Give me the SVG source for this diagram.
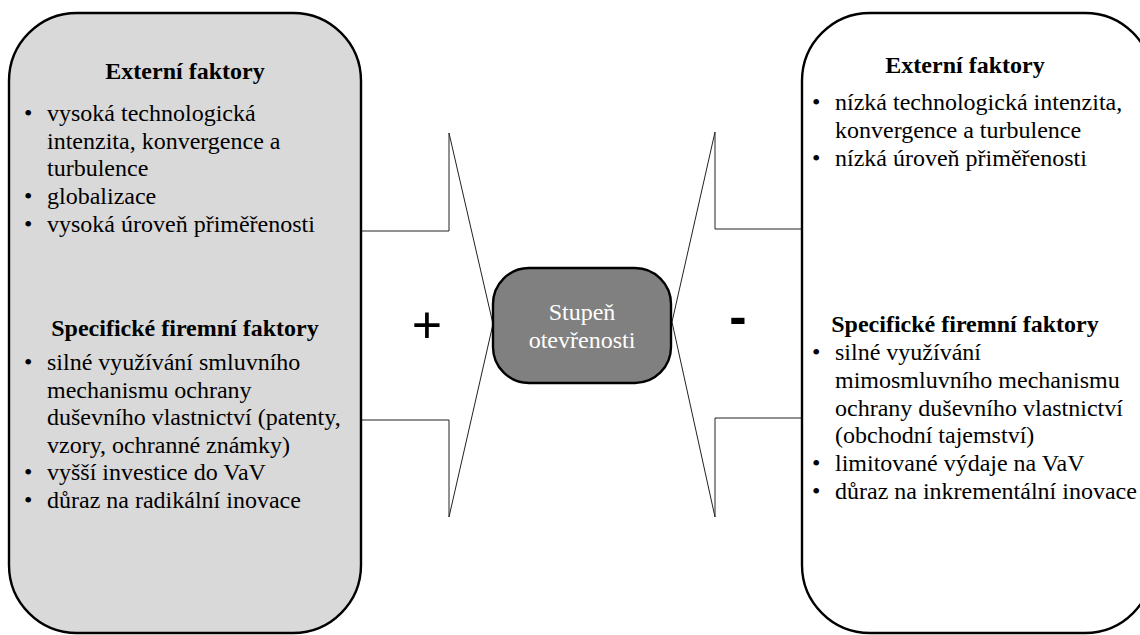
<svg xmlns="http://www.w3.org/2000/svg" width="1140" height="635" viewBox="0 0 1140 635" font-family="'Liberation Serif', 'DejaVu Serif', serif">
  <style>
    .box { stroke: #000; stroke-width: 2.4; }
    .side { fill: #d9d9d9; }
    .plain { fill: #fff; }
    .core { fill: #808080; }
    .arrow { fill: #fff; stroke: #222; stroke-width: 1; stroke-linejoin: miter; }
    .txt { font-family: 'Liberation Serif', 'DejaVu Serif', serif; font-size: 24px; fill: #000; }
    .head { font-weight: bold; text-anchor: middle; }
    .center { fill: #fff; text-anchor: middle; }
    .sign { font-family: 'Liberation Sans', 'DejaVu Sans', sans-serif; font-size: 52px; text-anchor: middle; fill: #000; }
  </style>

  <!-- broad arrows pointing at the central node -->
  <g id="connectors">
    <polygon class="arrow" points="361,231 449,231 449,133 493,324 449,517 449,420 361,420"/>
    <polygon class="arrow" points="802,229 715,229 715,132 672,322 715,517 715,418 802,418"/>
    <text class="sign" x="427" y="343">+</text>
    <text class="sign" x="738" y="334" font-weight="bold">-</text>
  </g>

  <!-- factors raising openness -->
  <g id="node-positive" class="txt">
    <rect class="box side" x="9" y="13" width="352" height="620" rx="68" ry="68"/>
    <text class="head" x="185" y="79">Externí faktory</text>
    <text x="24" y="121">•</text><text x="47" y="121">vysoká technologická</text>
    <text x="47" y="149">intenzita, konvergence a</text>
    <text x="47" y="176">turbulence</text>
    <text x="24" y="204">•</text><text x="47" y="204">globalizace</text>
    <text x="24" y="232">•</text><text x="47" y="232">vysoká úroveň přiměřenosti</text>

    <text class="head" x="185" y="336">Specifické firemní faktory</text>
    <text x="24" y="370">•</text><text x="47" y="370">silné využívání smluvního</text>
    <text x="47" y="397.5">mechanismu ochrany</text>
    <text x="47" y="425">duševního vlastnictví (patenty,</text>
    <text x="47" y="452.5">vzory, ochranné známky)</text>
    <text x="24" y="480">•</text><text x="47" y="480">vyšší investice do VaV</text>
    <text x="24" y="508">•</text><text x="47" y="508">důraz na radikální inovace</text>
  </g>

  <!-- factors lowering openness -->
  <g id="node-negative" class="txt">
    <rect class="box plain" x="802" y="13" width="351" height="620" rx="68" ry="68"/>
    <text class="head" x="965" y="73">Externí faktory</text>
    <text x="812" y="110">•</text><text x="835" y="110">nízká technologická intenzita,</text>
    <text x="835" y="138">konvergence a turbulence</text>
    <text x="812" y="166">•</text><text x="835" y="166">nízká úroveň přiměřenosti</text>

    <text class="head" x="965" y="332">Specifické firemní faktory</text>
    <text x="812" y="360">•</text><text x="835" y="360">silné využívání</text>
    <text x="835" y="388">mimosmluvního mechanismu</text>
    <text x="835" y="415.5">ochrany duševního vlastnictví</text>
    <text x="835" y="443">(obchodní tajemství)</text>
    <text x="812" y="471">•</text><text x="835" y="471">limitované výdaje na VaV</text>
    <text x="812" y="498.5">•</text><text x="835" y="498.5">důraz na inkrementální inovace</text>
  </g>

  <!-- central node -->
  <g id="node-openness" class="txt">
    <rect class="box core" x="493" y="268" width="178" height="115" rx="36" ry="36"/>
    <text class="center" x="582" y="320">Stupeň</text>
    <text class="center" x="582" y="348">otevřenosti</text>
  </g>
</svg>
